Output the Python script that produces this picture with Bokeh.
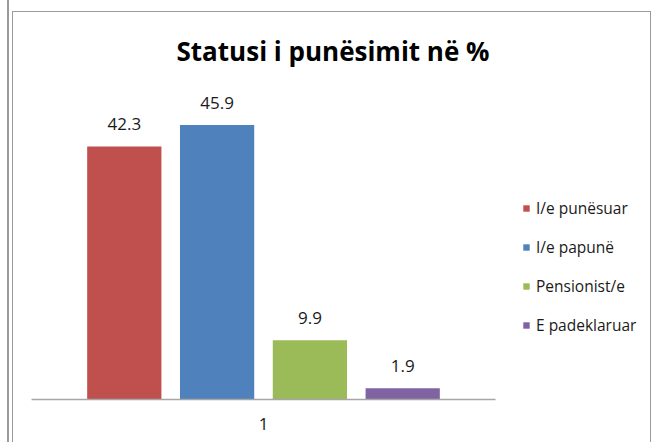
from bokeh.plotting import figure
from bokeh.layouts import column, row
from bokeh.models import ColumnDataSource, FactorRange, Legend, Range1d, Label
from bokeh.transform import dodge
from bokeh.core.properties import value
from bokeh.embed import file_html
from bokeh.resources import INLINE

group = ["1"]
categories = ["I/e punësuar", "I/e papunë", "Pensionist/e", "E padeklaruar"]
values = [42.3, 45.9, 9.9, 1.9]
value_labels = ["42.3", "45.9", "9.9", "1.9"]
palette = ["#C0504D", "#4F81BD", "#9BBB59", "#8064A2"]
title_text = "Statusi i punësimit në %"

FONT = "Open Sans"
LINE = "#9a9a9a"


def blank(fig):
    fig.background_fill_color = "white"
    fig.border_fill_color = "white"
    fig.outline_line_color = None
    fig.grid.visible = False


# title strip
t = figure(width=637, height=70, x_range=Range1d(0, 1), y_range=Range1d(0, 1),
           output_backend="svg", toolbar_location=None,
           min_border_left=0, min_border_right=0, min_border_top=0, min_border_bottom=0)
blank(t)
t.axis.visible = False
t.add_layout(Label(x=319.5, y=32, x_units="screen", y_units="screen", text=title_text,
                   text_align="center", text_baseline="alphabetic",
                   text_font=FONT, text_font_size="26px", text_font_style="bold",
                   text_color="#000000"))

# main chart
p = figure(width=487, height=360, x_range=FactorRange(factors=group), y_range=(0, 53),
           output_backend="svg", toolbar_location=None,
           min_border_left=18, min_border_right=5, min_border_top=0, min_border_bottom=43)
blank(p)
p.yaxis.visible = False

xa = p.xaxis[0]
xa.axis_line_color = "#a6a6a6"
xa.axis_line_width = 1.5
xa.major_tick_line_color = None
xa.minor_tick_line_color = None
xa.major_label_text_font = FONT
xa.major_label_text_font_size = "17px"
xa.major_label_text_color = "#1a1a1a"
xa.major_label_standoff = 12

# legend panel (own small figure so the legend is not clipped)
q = figure(width=150, height=360, x_range=FactorRange(factors=group), y_range=Range1d(-2, -1),
           output_backend="svg", toolbar_location=None,
           min_border_left=22, min_border_right=0, min_border_top=0, min_border_bottom=0)
blank(q)
q.axis.visible = False

lg = Legend(location="top_left", padding=0, margin=0, border_line_color=None,
            background_fill_alpha=0, title="\u00a0", title_text_font_size="1px",
            title_standoff=114, label_text_font=FONT, label_text_font_size="15.5px",
            label_text_color="#1a1a1a", glyph_width=8, glyph_height=8,
            label_standoff=6, label_height=20, spacing=17)
q.add_layout(lg)

n = len(categories)
for i, (cat, val, lab, col) in enumerate(zip(categories, values, value_labels, palette)):
    off = (i - (n - 1) / 2) * 0.2
    src = ColumnDataSource(dict(x=group, top=[val], label=[lab]))
    p.vbar(x=dodge("x", off, range=p.x_range), top="top", bottom=0, width=0.16,
           source=src, fill_color=col, line_color=None)
    p.text(x=dodge("x", off, range=p.x_range), y="top", text="label", source=src,
           y_offset=-22, text_align="center", text_baseline="alphabetic",
           text_font=value(FONT), text_font_size="17px", text_color="#1a1a1a")
    # legend swatch only (zero width, outside the legend figure's range)
    q.vbar(x=dodge("x", off, range=q.x_range), top="top", bottom=0, width=0,
           source=src, fill_color=col, line_color=None, legend_label=cat)

box = column(t, row(p, q),
             styles={"border-left": f"1.5px solid {LINE}", "border-top": f"1.5px solid {LINE}",
                     "border-right": f"1.5px solid {LINE}", "margin-top": "11px"})
layout = column(box, styles={"border-left": f"2px solid {LINE}", "margin-left": "7px",
                             "padding-left": "3px"})

open("out.html", "w").write(file_html(layout, INLINE))
